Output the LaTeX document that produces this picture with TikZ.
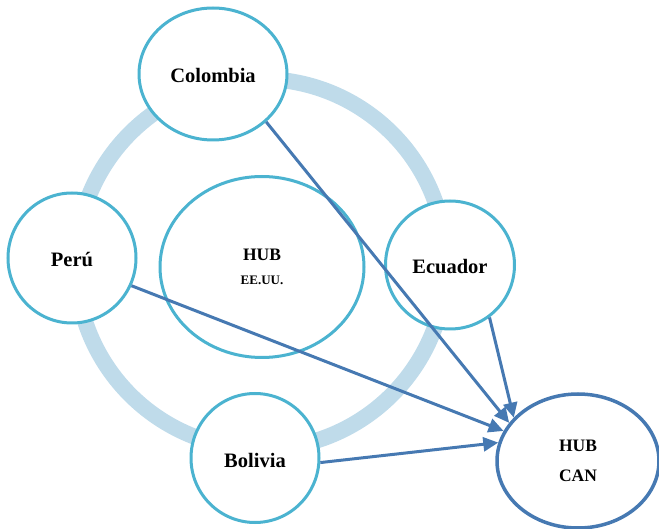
\documentclass[tikz,border=0pt]{standalone}
\usepackage{fontspec}
\setmainfont{Liberation Serif}
\usetikzlibrary{arrows.meta,shapes.geometric}
\definecolor{ringc}{HTML}{BFDBEA}
\definecolor{circc}{HTML}{4BB3D0}
\definecolor{arrc}{HTML}{4679B2}
\tikzset{
  country/.style={ellipse,draw=circc,line width=3pt,fill=white,inner sep=0pt,
    text height=18pt,text depth=0pt,
    font=\fontsize{20.5}{24}\selectfont\bfseries},
  hubnode/.style={ellipse,draw=circc,line width=3pt,fill=white,inner sep=0pt,align=center,
    font=\fontsize{17.5}{30}\selectfont\bfseries},
  link/.style={draw=arrc,line width=3pt,-{Triangle[length=15pt,width=14pt]}},
}
\begin{document}
\begin{tikzpicture}[x=1pt,y=-1pt]
\useasboundingbox (0,0) rectangle (659,529);
\coordinate (ringc) at (261,264);
\draw[ringc,line width=16pt] (ringc) circle[radius=185pt];
\node[hubnode,minimum width=204pt,minimum height=181pt] (hubus) at (262,267)
  {HUB\\[-6pt]{\fontsize{13}{24}\selectfont EE.UU.}};
\node[country,minimum width=148pt,minimum height=132pt] (colombia) at (213,74) {Colombia};
\node[country,minimum width=128pt,minimum height=130pt] (peru) at (72,258) {Perú};
\node[country,minimum width=129pt,minimum height=128pt] (ecuador) at (450,265) {Ecuador};
\node[country,minimum width=128pt,minimum height=129pt] (bolivia) at (255,458) {Bolivia};
\node[hubnode,draw=arrc,line width=3.5pt,minimum width=162pt,minimum height=134pt] (hubcan) at (578,461)
  {HUB\\CAN};
\draw[link] (colombia.-42) -- (hubcan.151);
\draw[link] (ecuador.-53) -- (hubcan.146);
\draw[link] (peru.-25) -- (hubcan.158);
\draw[link] (bolivia.-4) -- (hubcan.167);
\end{tikzpicture}
\end{document}
